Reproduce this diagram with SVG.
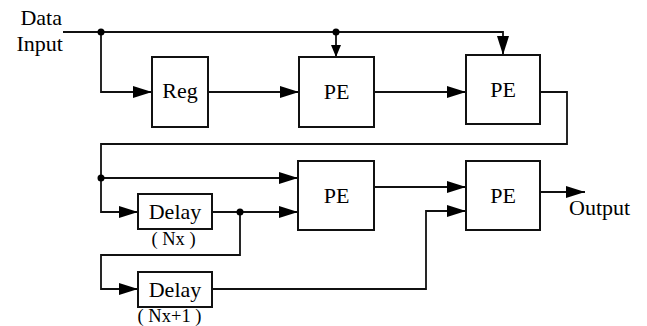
<svg xmlns="http://www.w3.org/2000/svg" width="647" height="326" viewBox="0 0 647 326">
<defs>
<marker id="arr" markerUnits="userSpaceOnUse" markerWidth="20" markerHeight="14" refX="19" refY="6" orient="auto">
<path d="M0,0 L19,6 L0,12 z" fill="#000" stroke="none"/>
</marker>
<marker id="arrS" markerUnits="userSpaceOnUse" markerWidth="14" markerHeight="12" refX="12" refY="5" orient="auto">
<path d="M0,0 L12,5 L0,10 z" fill="#000" stroke="none"/>
</marker>
</defs>
<g id="connectors" fill="none" stroke="#111" stroke-width="1.8">
<path d="M63,32 H503 V55" marker-end="url(#arr)"/>
<path d="M336,32 V57" marker-end="url(#arrS)"/>
<path d="M101,32 V92 H152" marker-end="url(#arr)"/>
<path d="M208,92 H299" marker-end="url(#arr)"/>
<path d="M374,92 H466" marker-end="url(#arr)"/>
<path d="M540,92 H567 V144 H101 V212 H138" marker-end="url(#arr)"/>
<path d="M101,178 H298" marker-end="url(#arr)"/>
<path d="M212,212 H298" marker-end="url(#arr)"/>
<path d="M240,212 V255 H101 V289 H138" marker-end="url(#arr)"/>
<path d="M212,289 H426 V211 H466" marker-end="url(#arr)"/>
<path d="M374,187 H466" marker-end="url(#arr)"/>
<path d="M540,192 H585" marker-end="url(#arr)"/>
<g fill="#000" stroke="none">
<circle cx="101" cy="32" r="3.5"/>
<circle cx="336" cy="32" r="3.5"/>
<circle cx="101" cy="178" r="3.5"/>
<circle cx="240" cy="212" r="3.5"/>
</g>
</g>
<g fill="#fff" stroke="#111" stroke-width="2">
<g id="input-label">
<text x="62" y="25" text-anchor="end" font-family="Liberation Serif" font-size="22" fill="#000" stroke="none">Data</text>
<text x="63" y="51" text-anchor="end" font-family="Liberation Serif" font-size="22" fill="#000" stroke="none">Input</text>
</g>
<g id="reg">
<rect x="152" y="57" width="56" height="70"/>
<text x="180" y="98" text-anchor="middle" font-family="Liberation Serif" font-size="22" fill="#000" stroke="none">Reg</text>
</g>
<g id="pe1">
<rect x="299" y="57" width="75" height="70"/>
<text x="336.5" y="99" text-anchor="middle" font-family="Liberation Serif" font-size="22" fill="#000" stroke="none">PE</text>
</g>
<g id="pe2">
<rect x="466" y="55" width="74" height="69"/>
<text x="503" y="97" text-anchor="middle" font-family="Liberation Serif" font-size="22" fill="#000" stroke="none">PE</text>
</g>
<g id="delay1">
<rect x="138" y="194" width="74" height="35"/>
<text x="175" y="219" text-anchor="middle" font-family="Liberation Serif" font-size="22" fill="#000" stroke="none">Delay</text>
<text x="173.5" y="245" text-anchor="middle" font-family="Liberation Serif" font-size="18.5" fill="#000" stroke="none">( Nx )</text>
</g>
<g id="delay2">
<rect x="138" y="272" width="74" height="35"/>
<text x="175" y="297" text-anchor="middle" font-family="Liberation Serif" font-size="22" fill="#000" stroke="none">Delay</text>
<text x="169.5" y="322" text-anchor="middle" font-family="Liberation Serif" font-size="18.5" fill="#000" stroke="none">( Nx+1 )</text>
</g>
<g id="pe3">
<rect x="298" y="161" width="76" height="69"/>
<text x="336.5" y="203" text-anchor="middle" font-family="Liberation Serif" font-size="22" fill="#000" stroke="none">PE</text>
</g>
<g id="pe4">
<rect x="466" y="161" width="74" height="69"/>
<text x="503" y="203" text-anchor="middle" font-family="Liberation Serif" font-size="22" fill="#000" stroke="none">PE</text>
</g>
<g id="output-label">
<text x="569" y="215" font-family="Liberation Serif" font-size="22" fill="#000" stroke="none">Output</text>
</g>
</g>
</svg>
